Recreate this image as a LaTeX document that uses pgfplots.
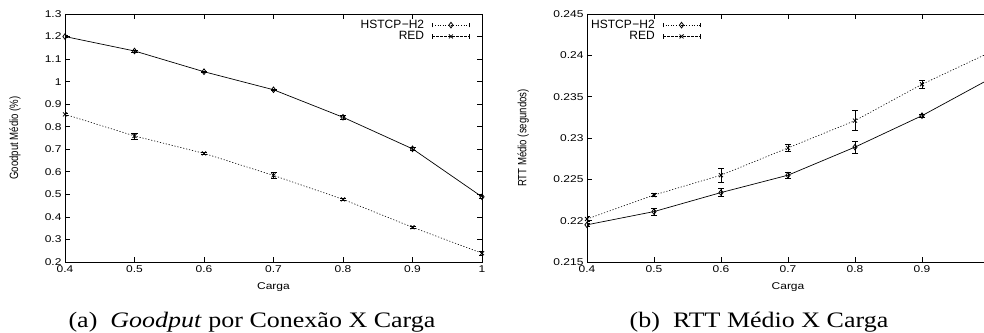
\documentclass[border=0pt]{standalone}
\usepackage{fontspec}
\setmainfont{Liberation Serif}
\newfontfamily\helv{Liberation Sans}
\usepackage{pgfplots}
\pgfplotsset{compat=1.18}
\usepackage{pgfplotstable}

\pgfplotstableread{
x y e
0.4 1.200 0.004
0.5 1.136 0.004
0.6 1.044 0.004
0.7 0.964 0.004
0.8 0.842 0.010
0.9 0.702 0.008
1.0 0.489 0.008
}\gpHS
\pgfplotstableread{
x y e
0.4 0.855 0.006
0.5 0.759 0.014
0.6 0.682 0.006
0.7 0.584 0.012
0.8 0.478 0.005
0.9 0.354 0.005
1.0 0.239 0.008
}\gpRED
\pgfplotstableread{
x y e
0.4 0.2195 0.0002
0.5 0.2211 0.0004
0.6 0.2234 0.0005
0.7 0.2255 0.0004
0.8 0.2289 0.0007
0.9 0.2327 0.0002
1.0 0.2371 0.0003
}\rtHS
\pgfplotstableread{
x y e
0.4 0.2202 0.0003
0.5 0.2231 0.0002
0.6 0.2255 0.0008
0.7 0.2288 0.0004
0.8 0.2321 0.0012
0.9 0.2365 0.0005
1.0 0.2403 0.0003
}\rtRED

\pgfplotsset{
  gp/.style={
    scale only axis, anchor=south west,
    xmin=0.4, xmax=1.0,
    xtick={0.4,0.5,0.6,0.7,0.8,0.9,1},
    scaled ticks=false,
    /pgf/number format/fixed, /pgf/number format/precision=3,
    /pgf/number format/assume math mode=true,
    tick align=inside, major tick length=5bp,
    axis line style={line width=0.9bp},
    every tick/.style={line width=0.7bp, black},
    tick label style={font=\helv\fontsize{12bp}{12bp}\selectfont, yscale=0.82},
    xticklabel style={yshift=-1bp},
    label style={font=\helv\fontsize{12bp}{12bp}\selectfont},
    xlabel style={at={(axis description cs:0.5,0)}, anchor=north, inner sep=0pt, yshift=-20bp, yscale=0.82},
    legend style={draw=none, fill=none, font=\helv\fontsize{12bp}{12bp}\selectfont, inner sep=0pt, row sep=-2.5bp, column sep=6bp},
    legend cell align=right, legend plot pos=right,
  },
  ebars/.style={
    /pgfplots/error bars/y dir=both, /pgfplots/error bars/y explicit,
    /pgfplots/error bars/error bar style={line width=0.5bp, solid},
    /pgfplots/error bars/error mark options={rotate=90, mark size=3bp, line width=0.5bp, solid}},
  hsp/.style={black, line width=0.7bp, mark=diamond, mark size=2.8bp, mark options={solid, line width=0.8bp}, ebars},
  rdp/.style={black, line width=0.6bp, dash pattern=on 1.2bp off 1.8bp, mark=x, mark size=2.8bp, mark options={solid, line width=0.8bp}, ebars},
  hsleg/.style={legend image code/.code={
    \draw[solid, line width=0.5bp] (0bp,-2.2bp) -- (0bp,2.2bp) (37bp,-2.2bp) -- (37bp,2.2bp);
    \draw[##1, dash pattern=on 1bp off 1.6bp, mark repeat=2, mark phase=2] plot coordinates {(0bp,0bp) (18.5bp,0bp) (37bp,0bp)};
  }},
  rdleg/.style={legend image code/.code={
    \draw[solid, line width=0.5bp] (0bp,-2.2bp) -- (0bp,2.2bp) (37bp,-2.2bp) -- (37bp,2.2bp);
    \draw[##1, dash pattern=on 2.5bp off 1.5bp, mark repeat=2, mark phase=2] plot coordinates {(0bp,0bp) (18.5bp,0bp) (37bp,0bp)};
  }},
}

\begin{document}
\begin{tikzpicture}
\path[use as bounding box] (0bp,0bp) rectangle (984bp,333bp);
\clip (0bp,0bp) rectangle (984bp,333bp);

\begin{axis}[gp, at={(65bp,71bp)}, width=417bp, height=248bp,
  ymin=0.2, ymax=1.3,
  ytick={0.2,0.3,0.4,0.5,0.6,0.7,0.8,0.9,1,1.1,1.2,1.3},
  xlabel={Carga}, ylabel={Goodput Médio (\%)},
  ylabel style={at={(axis description cs:-0.12,0.5)}, anchor=center, inner sep=0pt, xscale=0.8},
  legend style={at={(axis description cs:1,1)}, anchor=north east, xshift=-12bp, yshift=-4bp},
]
\addplot[hsp, hsleg] table[x=x, y=y, y error=e] {\gpHS};
\addlegendentry{HSTCP\kern0.5pt−H2}
\addplot[rdp, rdleg] table[x=x, y=y, y error=e] {\gpRED};
\addlegendentry{RED}
\end{axis}

\begin{axis}[gp, at={(587bp,71bp)}, width=402bp, height=248bp,
  ymin=0.215, ymax=0.245,
  ytick={0.215,0.22,0.225,0.23,0.235,0.24,0.245},
  xticklabels={0.4,0.5,0.6,0.7,0.8,0.9,{}},
  xlabel={Carga}, ylabel={RTT Médio (segundos)},
  ylabel style={at={(axis description cs:-0.159,0.5)}, anchor=center, inner sep=0pt, xscale=0.8},
  legend style={at={(axis description cs:0,1)}, anchor=north west, xshift=2bp, yshift=-4bp},
]
\addplot[hsp, hsleg] table[x=x, y=y, y error=e] {\rtHS};
\addlegendentry{HSTCP\kern0.5pt−H2}
\addplot[rdp, rdleg] table[x=x, y=y, y error=e] {\rtRED};
\addlegendentry{RED}
\end{axis}

\node[anchor=base, inner sep=0pt, font=\fontsize{26bp}{26bp}\selectfont, yscale=0.85] at (252bp,6bp) {(a)\enspace\textit{Goodput} por Conexão X Carga};
\node[anchor=base, inner sep=0pt, font=\fontsize{26bp}{26bp}\selectfont, yscale=0.85] at (759bp,6bp) {(b)\enspace RTT Médio X Carga};
\end{tikzpicture}
\end{document}
